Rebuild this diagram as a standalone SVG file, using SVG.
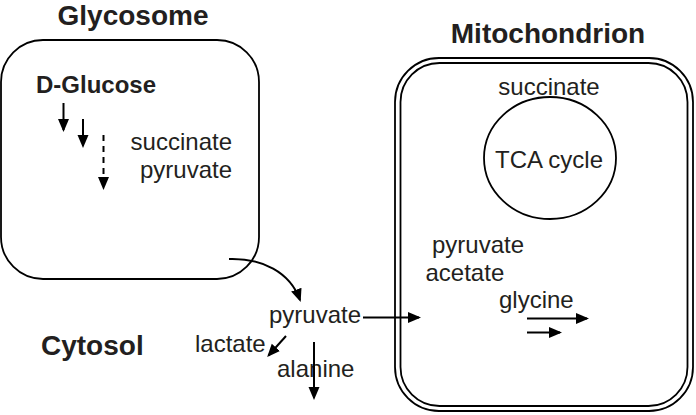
<svg xmlns="http://www.w3.org/2000/svg" width="696" height="415" viewBox="0 0 696 415">
<style>
.t{font-family:"Liberation Sans",Arial,sans-serif;font-size:24px;fill:#231f20}
.b{font-weight:bold;font-size:28px}
.box{fill:none;stroke:#000;stroke-width:1.8}
.ln{fill:none;stroke:#000;stroke-width:2}
</style>
<defs>
<marker id="ah" markerUnits="userSpaceOnUse" markerWidth="13" markerHeight="12" viewBox="0 0 13 12" refX="11" refY="6" orient="auto">
<path d="M0,0.5 L13,6 L0,11.5 z" fill="#000"/>
</marker>
</defs>
<rect width="696" height="415" fill="#fff"/>
<g id="glycosome">
<rect class="box" x="1" y="40" width="258" height="239" rx="42"/>
<text class="t b" x="133" y="25" text-anchor="middle">Glycosome</text>
<text class="t" x="36" y="93" font-weight="bold">D-Glucose</text>
<text class="t" x="232" y="150" text-anchor="end">succinate</text>
<text class="t" x="232" y="178" text-anchor="end">pyruvate</text>
</g>
<g id="mitochondrion">
<rect class="box" x="395" y="58" width="298" height="353" rx="44"/>
<rect class="box" x="400.5" y="63" width="287" height="343" rx="39"/>
<text class="t b" x="548" y="43" text-anchor="middle">Mitochondrion</text>
<text class="t" x="549" y="95" text-anchor="middle">succinate</text>
<text class="t" x="432" y="253">pyruvate</text>
<text class="t" x="425.5" y="281">acetate</text>
<text class="t" x="499" y="308">glycine</text>
</g>
<g id="tca">
<ellipse cx="550" cy="158" rx="66" ry="61" fill="none" stroke="#000" stroke-width="1.8"/>
<text class="t" x="549" y="168" text-anchor="middle">TCA cycle</text>
</g>
<g id="cytosol">
<text class="t b" x="41" y="355">Cytosol</text>
<text class="t" x="269" y="323">pyruvate</text>
<text class="t" x="195" y="352">lactate</text>
<text class="t" x="277" y="377">alanine</text>
</g>
<g id="connectors">
<line class="ln" x1="63.5" y1="103" x2="63.5" y2="130" marker-end="url(#ah)"/>
<line class="ln" x1="83" y1="119" x2="83" y2="146" marker-end="url(#ah)"/>
<line class="ln" x1="103.5" y1="135" x2="103.5" y2="188" stroke-dasharray="6,5" marker-end="url(#ah)"/>
<path class="ln" d="M229,259 C262,258 290,272 300,300" marker-end="url(#ah)"/>
<line class="ln" x1="363" y1="317.5" x2="419" y2="317.5" marker-end="url(#ah)"/>
<line class="ln" x1="286" y1="336" x2="268.5" y2="355.5" marker-end="url(#ah)"/>
<line class="ln" x1="314" y1="342" x2="314" y2="398" marker-end="url(#ah)"/>
<line class="ln" x1="527" y1="318.5" x2="587" y2="318.5" marker-end="url(#ah)"/>
<line class="ln" x1="527" y1="332.5" x2="560" y2="332.5" marker-end="url(#ah)"/>
</g>
</svg>
